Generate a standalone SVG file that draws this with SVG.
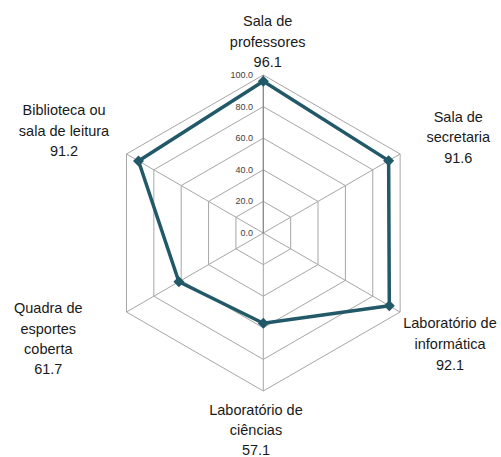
<svg xmlns="http://www.w3.org/2000/svg" width="501" height="457" viewBox="0 0 501 457">
<style>
.grid{fill:none;stroke:#A6A6A6;stroke-width:1}
.spoke{stroke:#A6A6A6;stroke-width:1}
.axis{stroke:#868686;stroke-width:1.3}
.tick{font-family:"Liberation Sans",Arial,sans-serif;font-size:9px;fill:#404040;text-anchor:end}
.cat{font-family:"Liberation Sans",Arial,sans-serif;font-size:14.5px;fill:#1a1a1a;text-anchor:middle}
.series{fill:none;stroke:#215968;stroke-width:3.5;stroke-linejoin:round}
</style>
<defs>
<path id="dia" d="M0,-5.5 L5.5,0 L0,5.5 L-5.5,0 Z" fill="#215968"/>
</defs>
<rect width="501" height="457" fill="#ffffff"/>
<g id="grid">
<polygon class="grid" points="263.3,201.4 290.67,217.2 290.67,248.8 263.3,264.6 235.93,248.8 235.93,217.2"/>
<polygon class="grid" points="263.3,169.8 318.03,201.4 318.03,264.6 263.3,296.2 208.57,264.6 208.57,201.4"/>
<polygon class="grid" points="263.3,138.2 345.4,185.6 345.4,280.4 263.3,327.8 181.2,280.4 181.2,185.6"/>
<polygon class="grid" points="263.3,106.6 372.76,169.8 372.76,296.2 263.3,359.4 153.84,296.2 153.84,169.8"/>
<polygon class="grid" points="263.3,75 400.13,154 400.13,312 263.3,391 126.47,312 126.47,154"/>
<line class="spoke" x1="263.3" y1="233" x2="400.13" y2="154"/>
<line class="spoke" x1="263.3" y1="233" x2="400.13" y2="312"/>
<line class="spoke" x1="263.3" y1="233" x2="126.47" y2="312"/>
<line class="spoke" x1="263.3" y1="233" x2="126.47" y2="154"/>
<line class="spoke" x1="263.3" y1="233" x2="263.3" y2="391"/>
<line class="axis" x1="263.3" y1="233" x2="263.3" y2="75"/>
</g>
<g id="ticks">
<text class="tick" x="253" y="78">100.0</text>
<text class="tick" x="253" y="109.6">80.0</text>
<text class="tick" x="253" y="141.2">60.0</text>
<text class="tick" x="253" y="172.8">40.0</text>
<text class="tick" x="253" y="204.4">20.0</text>
<text class="tick" x="253" y="236">0.0</text>
</g>
<g id="series">
<polygon class="series" points="263.3,81.16 388.64,160.64 389.32,305.76 263.3,323.22 178.87,281.74 138.51,160.95"/>
<use href="#dia" x="263.3" y="81.16"/>
<use href="#dia" x="388.64" y="160.64"/>
<use href="#dia" x="389.32" y="305.76"/>
<use href="#dia" x="263.3" y="323.22"/>
<use href="#dia" x="178.87" y="281.74"/>
<use href="#dia" x="138.51" y="160.95"/>
</g>
<g id="label-professores">
<text class="cat" x="267.7" y="26">Sala de</text>
<text class="cat" x="267.7" y="46.5">professores</text>
<text class="cat" x="267.7" y="67">96.1</text>
</g>
<g id="label-secretaria">
<text class="cat" x="458.3" y="121.7">Sala de</text>
<text class="cat" x="458.3" y="142.3">secretaria</text>
<text class="cat" x="458.3" y="162.7">91.6</text>
</g>
<g id="label-informatica">
<text class="cat" x="450" y="328.3">Laboratório de</text>
<text class="cat" x="450" y="349">informática</text>
<text class="cat" x="450" y="370">92.1</text>
</g>
<g id="label-ciencias">
<text class="cat" x="256" y="415">Laboratório de</text>
<text class="cat" x="256" y="435">ciências</text>
<text class="cat" x="256" y="455">57.1</text>
</g>
<g id="label-quadra">
<text class="cat" x="48.3" y="313.3">Quadra de</text>
<text class="cat" x="48.3" y="334">esportes</text>
<text class="cat" x="48.3" y="354.3">coberta</text>
<text class="cat" x="48.3" y="374.3">61.7</text>
</g>
<g id="label-biblioteca">
<text class="cat" x="64" y="115">Biblioteca ou</text>
<text class="cat" x="64" y="135.7">sala de leitura</text>
<text class="cat" x="64" y="155.7">91.2</text>
</g>
</svg>
